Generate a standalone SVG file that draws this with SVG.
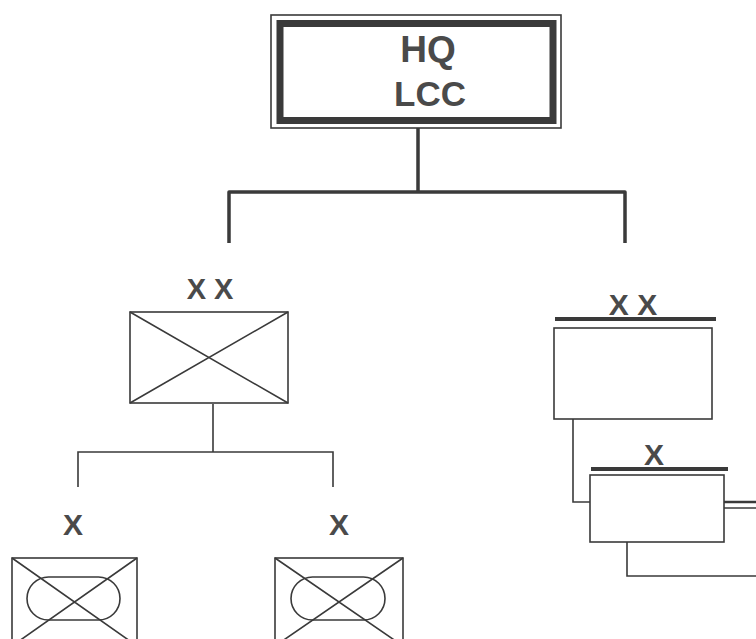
<svg xmlns="http://www.w3.org/2000/svg" width="756" height="639" viewBox="0 0 756 639">
<style>
.t{font-family:"Liberation Sans",Arial,sans-serif;font-weight:bold;fill:#4a4a4a;text-anchor:middle}
.thin{fill:none;stroke:#3a3a3a;stroke-width:1.6}
.c{fill:none;stroke:#3a3a3a;stroke-width:1.6}
.ck{fill:none;stroke:#3a3a3a;stroke-width:3.5;stroke-linejoin:round}
.bar{stroke:#3a3a3a;stroke-width:4}
</style>
<rect width="756" height="639" fill="#fff"/>
<g id="connectors">
<path class="ck" d="M418,128 V192 M229,243 V192 H625 V243"/>
<path class="c" d="M213,404 V452 M78,487 V452 H333 V487"/>
<path class="c" d="M573,419 V502 H590"/>
<path class="c" d="M627,542 V576 H756"/>
<line x1="724" y1="502" x2="756" y2="502" stroke="#3a3a3a" stroke-width="2.5"/>
<line x1="724" y1="508" x2="756" y2="508" stroke="#3a3a3a" stroke-width="1.5"/>
</g>
<g id="hq">
<rect x="271" y="15" width="290" height="113" class="thin" stroke-width="1.5"/>
<rect x="280" y="23.5" width="273" height="97" fill="none" stroke="#3a3a3a" stroke-width="7"/>
<text class="t" x="428" y="62" font-size="37">HQ</text>
<text class="t" x="430" y="106" font-size="35">LCC</text>
</g>
<g id="div-left">
<text class="t" x="210" y="299" font-size="29">X X</text>
<rect x="130" y="312" width="158" height="91" class="thin"/>
<path class="thin" d="M130,312 L288,403 M288,312 L130,403"/>
</g>
<g id="brig-left">
<text class="t" x="73" y="535" font-size="30">X</text>
<rect x="12" y="558" width="125" height="88" class="thin"/>
<path class="thin" d="M12,558 L137,646 M137,558 L12,646"/>
<rect x="27" y="577" width="93" height="43" rx="21.5" class="thin"/>
</g>
<g id="brig-mid">
<text class="t" x="339" y="535" font-size="30">X</text>
<rect x="275" y="558" width="128" height="88" class="thin"/>
<path class="thin" d="M275,558 L403,646 M403,558 L275,646"/>
<rect x="291" y="577" width="94" height="43" rx="21.5" class="thin"/>
</g>
<g id="div-right">
<text class="t" x="633" y="315" font-size="30">X X</text>
<line x1="555" y1="319" x2="716" y2="319" class="bar"/>
<rect x="554" y="328" width="158" height="91" class="thin"/>
</g>
<g id="brig-right">
<text class="t" x="654" y="465" font-size="30">X</text>
<line x1="591" y1="469" x2="728" y2="469" class="bar"/>
<rect x="590" y="475" width="134" height="67" class="thin"/>
</g>
</svg>
